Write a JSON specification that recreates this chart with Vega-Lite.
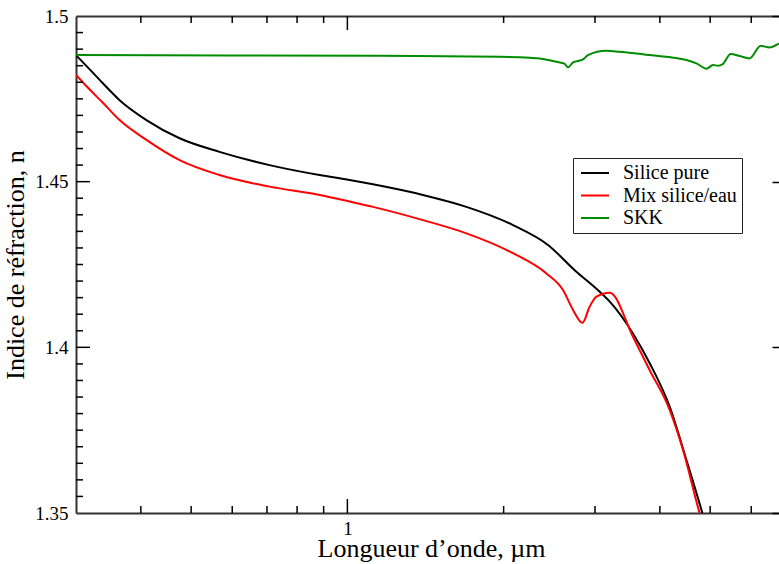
{
  "$schema": "https://vega.github.io/schema/vega-lite/v6.json",
  "width": 710,
  "height": 497,
  "autosize": {"type": "none"},
  "padding": {"left": 76, "top": 16, "right": 0, "bottom": 51},
  "background": "white",
  "config": {
    "font": "Liberation Serif",
    "view": {"stroke": null},
    "axis": {
      "zindex": 1,
      "grid": false,
      "domainColor": "#333333",
      "domainWidth": 2,
      "tickColor": "#000000",
      "tickWidth": 1.5,
      "labelFont": "Liberation Serif",
      "labelFontSize": 19,
      "labelColor": "#000000",
      "labelOverlap": false,
      "labelFlush": false,
      "titleFont": "Liberation Serif",
      "titleFontSize": 26,
      "titleFontWeight": "normal",
      "titleColor": "#000000"
    }
  },
  "datasets": {
    "curves": [
      {"series": "Silice pure", "x": 0.3, "n": 1.4882},
      {"series": "Silice pure", "x": 0.3188, "n": 1.4839},
      {"series": "Silice pure", "x": 0.338, "n": 1.4797},
      {"series": "Silice pure", "x": 0.364, "n": 1.4746},
      {"series": "Silice pure", "x": 0.41, "n": 1.4686},
      {"series": "Silice pure", "x": 0.475, "n": 1.4631},
      {"series": "Silice pure", "x": 0.567, "n": 1.459},
      {"series": "Silice pure", "x": 0.708, "n": 1.455},
      {"series": "Silice pure", "x": 0.884, "n": 1.452},
      {"series": "Silice pure", "x": 1.01, "n": 1.4505},
      {"series": "Silice pure", "x": 1.12, "n": 1.4492},
      {"series": "Silice pure", "x": 1.398, "n": 1.446},
      {"series": "Silice pure", "x": 1.696, "n": 1.4424},
      {"series": "Silice pure", "x": 2.085, "n": 1.4369},
      {"series": "Silice pure", "x": 2.435, "n": 1.4309},
      {"series": "Silice pure", "x": 2.741, "n": 1.4233},
      {"series": "Silice pure", "x": 3.063, "n": 1.4168},
      {"series": "Silice pure", "x": 3.203, "n": 1.4138},
      {"series": "Silice pure", "x": 3.55, "n": 1.4042},
      {"series": "Silice pure", "x": 3.824, "n": 1.3952},
      {"series": "Silice pure", "x": 4.178, "n": 1.3821},
      {"series": "Silice pure", "x": 4.5, "n": 1.366},
      {"series": "Silice pure", "x": 4.831, "n": 1.3499},
      {"series": "Silice pure", "x": 4.95, "n": 1.344},
      {"series": "Mix silice/eau", "x": 0.3, "n": 1.4822},
      {"series": "Mix silice/eau", "x": 0.3188, "n": 1.4778},
      {"series": "Mix silice/eau", "x": 0.338, "n": 1.4738},
      {"series": "Mix silice/eau", "x": 0.364, "n": 1.4686},
      {"series": "Mix silice/eau", "x": 0.41, "n": 1.4626},
      {"series": "Mix silice/eau", "x": 0.475, "n": 1.4565},
      {"series": "Mix silice/eau", "x": 0.567, "n": 1.452},
      {"series": "Mix silice/eau", "x": 0.708, "n": 1.4485},
      {"series": "Mix silice/eau", "x": 0.884, "n": 1.446},
      {"series": "Mix silice/eau", "x": 1.01, "n": 1.444},
      {"series": "Mix silice/eau", "x": 1.12, "n": 1.4424},
      {"series": "Mix silice/eau", "x": 1.398, "n": 1.4384},
      {"series": "Mix silice/eau", "x": 1.696, "n": 1.4344},
      {"series": "Mix silice/eau", "x": 2.085, "n": 1.4284},
      {"series": "Mix silice/eau", "x": 2.418, "n": 1.4223},
      {"series": "Mix silice/eau", "x": 2.603, "n": 1.4173},
      {"series": "Mix silice/eau", "x": 2.721, "n": 1.4113},
      {"series": "Mix silice/eau", "x": 2.837, "n": 1.4074},
      {"series": "Mix silice/eau", "x": 2.93, "n": 1.4123},
      {"series": "Mix silice/eau", "x": 3.019, "n": 1.4153},
      {"series": "Mix silice/eau", "x": 3.203, "n": 1.4165},
      {"series": "Mix silice/eau", "x": 3.55, "n": 1.4032},
      {"series": "Mix silice/eau", "x": 3.824, "n": 1.3931},
      {"series": "Mix silice/eau", "x": 4.178, "n": 1.3811},
      {"series": "Mix silice/eau", "x": 4.433, "n": 1.369},
      {"series": "Mix silice/eau", "x": 4.772, "n": 1.3499},
      {"series": "Mix silice/eau", "x": 4.9, "n": 1.344},
      {"series": "SKK", "x": 0.3, "n": 1.4882},
      {"series": "SKK", "x": 0.6, "n": 1.4881},
      {"series": "SKK", "x": 1.154, "n": 1.488},
      {"series": "SKK", "x": 1.965, "n": 1.4877},
      {"series": "SKK", "x": 2.245, "n": 1.4874},
      {"series": "SKK", "x": 2.347, "n": 1.4872},
      {"series": "SKK", "x": 2.527, "n": 1.4862},
      {"series": "SKK", "x": 2.62, "n": 1.4856},
      {"series": "SKK", "x": 2.661, "n": 1.4845},
      {"series": "SKK", "x": 2.721, "n": 1.486},
      {"series": "SKK", "x": 2.844, "n": 1.4869},
      {"series": "SKK", "x": 2.908, "n": 1.4882},
      {"series": "SKK", "x": 3.155, "n": 1.4895},
      {"series": "SKK", "x": 3.347, "n": 1.4892},
      {"series": "SKK", "x": 3.824, "n": 1.4882},
      {"series": "SKK", "x": 4.5, "n": 1.4867},
      {"series": "SKK", "x": 4.704, "n": 1.4857},
      {"series": "SKK", "x": 4.918, "n": 1.4841},
      {"series": "SKK", "x": 5.064, "n": 1.4852},
      {"series": "SKK", "x": 5.177, "n": 1.485},
      {"series": "SKK", "x": 5.278, "n": 1.4854},
      {"series": "SKK", "x": 5.477, "n": 1.4885},
      {"series": "SKK", "x": 5.7, "n": 1.4879},
      {"series": "SKK", "x": 5.958, "n": 1.4872},
      {"series": "SKK", "x": 6.256, "n": 1.491},
      {"series": "SKK", "x": 6.51, "n": 1.4905},
      {"series": "SKK", "x": 6.754, "n": 1.4915},
      {"series": "SKK", "x": 7.0, "n": 1.4925}
    ],
    "xMinor": [{"t": 0.4}, {"t": 0.5}, {"t": 0.6}, {"t": 0.7}, {"t": 0.8}, {"t": 0.9}, {"t": 2}, {"t": 3}, {"t": 4}, {"t": 5}, {"t": 6}],
    "xMajor": [{"t": 1}],
    "yMinor": [{"t": 1.355}, {"t": 1.36}, {"t": 1.365}, {"t": 1.37}, {"t": 1.375}, {"t": 1.38}, {"t": 1.385}, {"t": 1.39}, {"t": 1.395}, {"t": 1.405}, {"t": 1.41}, {"t": 1.415}, {"t": 1.42}, {"t": 1.425}, {"t": 1.43}, {"t": 1.435}, {"t": 1.44}, {"t": 1.445}, {"t": 1.455}, {"t": 1.46}, {"t": 1.465}, {"t": 1.47}, {"t": 1.475}, {"t": 1.48}, {"t": 1.485}, {"t": 1.49}, {"t": 1.495}],
    "yMajor": [{"t": 1.4}, {"t": 1.45}]
  },
  "layer": [
    {
      "data": {"name": "curves"},
      "mark": {"type": "line", "strokeWidth": 2, "clip": true, "interpolate": "monotone"},
      "encoding": {
        "x": {
          "field": "x",
          "type": "quantitative",
          "scale": {"type": "log", "domain": [0.3, 7], "nice": false},
          "axis": {
            "orient": "bottom",
            "values": [1],
            "labelExpr": "'1'",
            "ticks": false,
            "labelPadding": 6,
            "title": "Longueur d’onde, µm",
            "titlePadding": -3
          }
        },
        "y": {
          "field": "n",
          "type": "quantitative",
          "scale": {"domain": [1.35, 1.5], "nice": false, "zero": false},
          "axis": {
            "orient": "left",
            "values": [1.35, 1.4, 1.45, 1.5],
            "labelExpr": "format(datum.value, '~g')",
            "ticks": false,
            "labelPadding": 8,
            "title": "Indice de réfraction, n",
            "titlePadding": 6
          }
        },
        "color": {
          "field": "series",
          "type": "nominal",
          "scale": {"domain": ["Silice pure", "Mix silice/eau", "SKK"], "range": ["#000000", "#ff0000", "#008c00"]},
          "legend": {
            "orient": "none",
            "legendX": 497,
            "legendY": 142,
            "title": null,
            "symbolType": "M-2,0H2",
            "symbolSize": 196,
            "symbolStrokeWidth": 2,
            "symbolOffset": 7,
            "labelFont": "Liberation Serif",
            "labelFontSize": 20,
            "labelColor": "#000000",
            "labelOffset": 18,
            "rowPadding": 2.5,
            "padding": 5,
            "strokeColor": "#222222",
            "fillColor": "#ffffff"
          }
        }
      }
    },
    {
      "data": {"name": "curves"},
      "mark": {"type": "point", "opacity": 0},
      "encoding": {
        "x": {
          "field": "x",
          "type": "quantitative",
          "scale": {"type": "log", "domain": [0.3, 7], "nice": false},
          "axis": {"orient": "top", "values": [1], "labels": false, "ticks": false, "title": null}
        },
        "y": {
          "field": "n",
          "type": "quantitative",
          "scale": {"domain": [1.35, 1.5], "nice": false, "zero": false},
          "axis": {
            "orient": "right",
            "values": [1.35, 1.355, 1.36, 1.365, 1.37, 1.375, 1.38, 1.385, 1.39, 1.395, 1.4, 1.405, 1.41, 1.415, 1.42, 1.425, 1.43, 1.435, 1.44, 1.445, 1.45, 1.455, 1.46, 1.465, 1.47, 1.475, 1.48, 1.485, 1.49, 1.495, 1.5],
            "labels": false,
            "tickSize": {"condition": {"test": "abs(datum.value*20 - round(datum.value*20)) < 1e-6", "value": -14}, "value": -7},
            "title": null
          }
        }
      }
    },
    {
      "data": {"name": "xMinor"},
      "mark": {"type": "rule", "color": "#000000", "strokeWidth": 1.5},
      "encoding": {
        "x": {"field": "t", "type": "quantitative", "scale": {"type": "log", "domain": [0.3, 7], "nice": false}, "axis": null},
        "y": {"datum": 1.35, "type": "quantitative", "scale": {"domain": [1.35, 1.5], "nice": false, "zero": false}, "axis": null},
        "y2": {"datum": 1.35211}
      }
    },
    {
      "data": {"name": "xMinor"},
      "mark": {"type": "rule", "color": "#000000", "strokeWidth": 1.5},
      "encoding": {
        "x": {"field": "t", "type": "quantitative", "scale": {"type": "log", "domain": [0.3, 7], "nice": false}, "axis": null},
        "y": {"datum": 1.5, "type": "quantitative", "scale": {"domain": [1.35, 1.5], "nice": false, "zero": false}, "axis": null},
        "y2": {"datum": 1.49789}
      }
    },
    {
      "data": {"name": "xMajor"},
      "mark": {"type": "rule", "color": "#000000", "strokeWidth": 1.5},
      "encoding": {
        "x": {"field": "t", "type": "quantitative", "scale": {"type": "log", "domain": [0.3, 7], "nice": false}, "axis": null},
        "y": {"datum": 1.35, "type": "quantitative", "scale": {"domain": [1.35, 1.5], "nice": false, "zero": false}, "axis": null},
        "y2": {"datum": 1.35423}
      }
    },
    {
      "data": {"name": "xMajor"},
      "mark": {"type": "rule", "color": "#000000", "strokeWidth": 1.5},
      "encoding": {
        "x": {"field": "t", "type": "quantitative", "scale": {"type": "log", "domain": [0.3, 7], "nice": false}, "axis": null},
        "y": {"datum": 1.5, "type": "quantitative", "scale": {"domain": [1.35, 1.5], "nice": false, "zero": false}, "axis": null},
        "y2": {"datum": 1.49577}
      }
    },
    {
      "data": {"name": "yMinor"},
      "mark": {"type": "rule", "color": "#000000", "strokeWidth": 1.5},
      "encoding": {
        "y": {"field": "t", "type": "quantitative", "scale": {"domain": [1.35, 1.5], "nice": false, "zero": false}, "axis": null},
        "x": {"datum": 0.3, "type": "quantitative", "scale": {"type": "log", "domain": [0.3, 7], "nice": false}, "axis": null},
        "x2": {"datum": 0.30945}
      }
    },
    {
      "data": {"name": "yMajor"},
      "mark": {"type": "rule", "color": "#000000", "strokeWidth": 1.5},
      "encoding": {
        "y": {"field": "t", "type": "quantitative", "scale": {"domain": [1.35, 1.5], "nice": false, "zero": false}, "axis": null},
        "x": {"datum": 0.3, "type": "quantitative", "scale": {"type": "log", "domain": [0.3, 7], "nice": false}, "axis": null},
        "x2": {"datum": 0.3192}
      }
    }
  ],
  "resolve": {"axis": {"x": "independent", "y": "independent"}}
}
